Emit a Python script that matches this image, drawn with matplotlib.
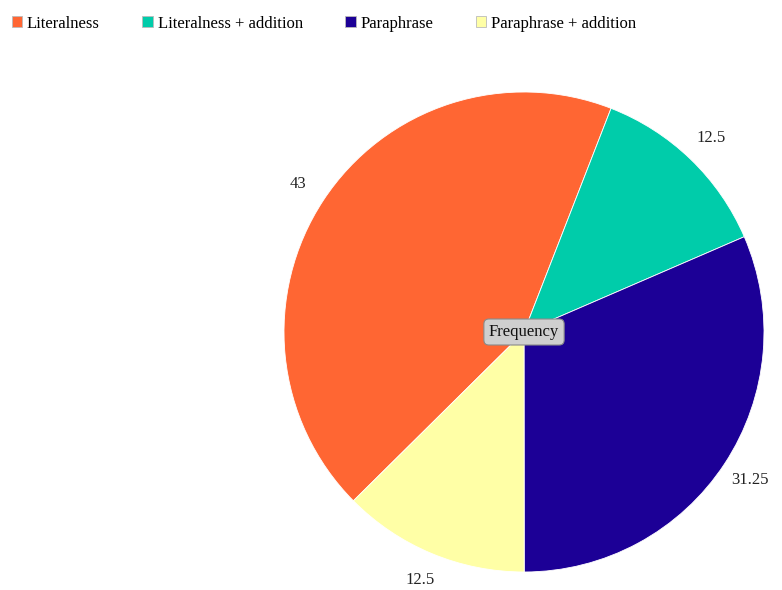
import numpy as np
import matplotlib
matplotlib.use('Agg')
from matplotlib import pyplot as plt
from matplotlib.patches import Patch

categories = ['Literalness', 'Literalness + addition', 'Paraphrase', 'Paraphrase + addition']
frequency = [43, 12.5, 31.25, 12.5]
value_labels = ['43', '12.5', '31.25', '12.5']
colors = ['#FF6633', '#00CCAA', '#1C0096', '#FFFFA6']

plt.rcParams['font.family'] = ['Liberation Serif', 'DejaVu Serif']
FS = 12

W, H = 782, 590
fig = plt.figure(figsize=(W / 100, H / 100), dpi=100)

# pie centre (524, 332) px from top-left, radius 240 px
R = 240
cx, cy = 524, H - 332
left, bottom, top = 224, 0, 545
ax = fig.add_axes([left / W, bottom / H, (W - left) / W, (top - bottom) / H])

wedges, _ = ax.pie(frequency, colors=colors, startangle=-135.3, counterclock=False,
                   wedgeprops=dict(edgecolor='white', linewidth=0.6))
for w in wedges:
    w.set_clip_on(False)

# pie() resets the limits, so set them afterwards
ax.set_xlim((left - cx) / R, (W - cx) / R)
ax.set_ylim((bottom - cy) / R, (top - cy) / R)
ax.axis('off')

for w, lab in zip(wedges, value_labels):
    mid = np.deg2rad((w.theta1 + w.theta2) / 2)
    ax.text(1.125 * np.cos(mid), 1.12 * np.sin(mid), lab, ha='center', va='center',
            fontsize=FS, color='#222222', clip_on=False)

ax.text(0, 0, 'Frequency', ha='center', va='center', fontsize=FS, color='#111111',
        bbox=dict(boxstyle='round,pad=0.3,rounding_size=0.3', facecolor='#cfcfcf',
                  edgecolor='#8a8a8a', linewidth=0.8))

handles = [Patch(facecolor=c, edgecolor='#bbbbbb', linewidth=0.6) for c in colors]
fig.legend(handles, categories, loc='upper left', bbox_to_anchor=(0, 1 - 4 / H),
           ncol=4, frameon=False, fontsize=FS, handlelength=0.62, handleheight=0.62,
           handletextpad=0.3, columnspacing=2.55, borderpad=0.2)

fig.savefig('out.png', dpi=100)
